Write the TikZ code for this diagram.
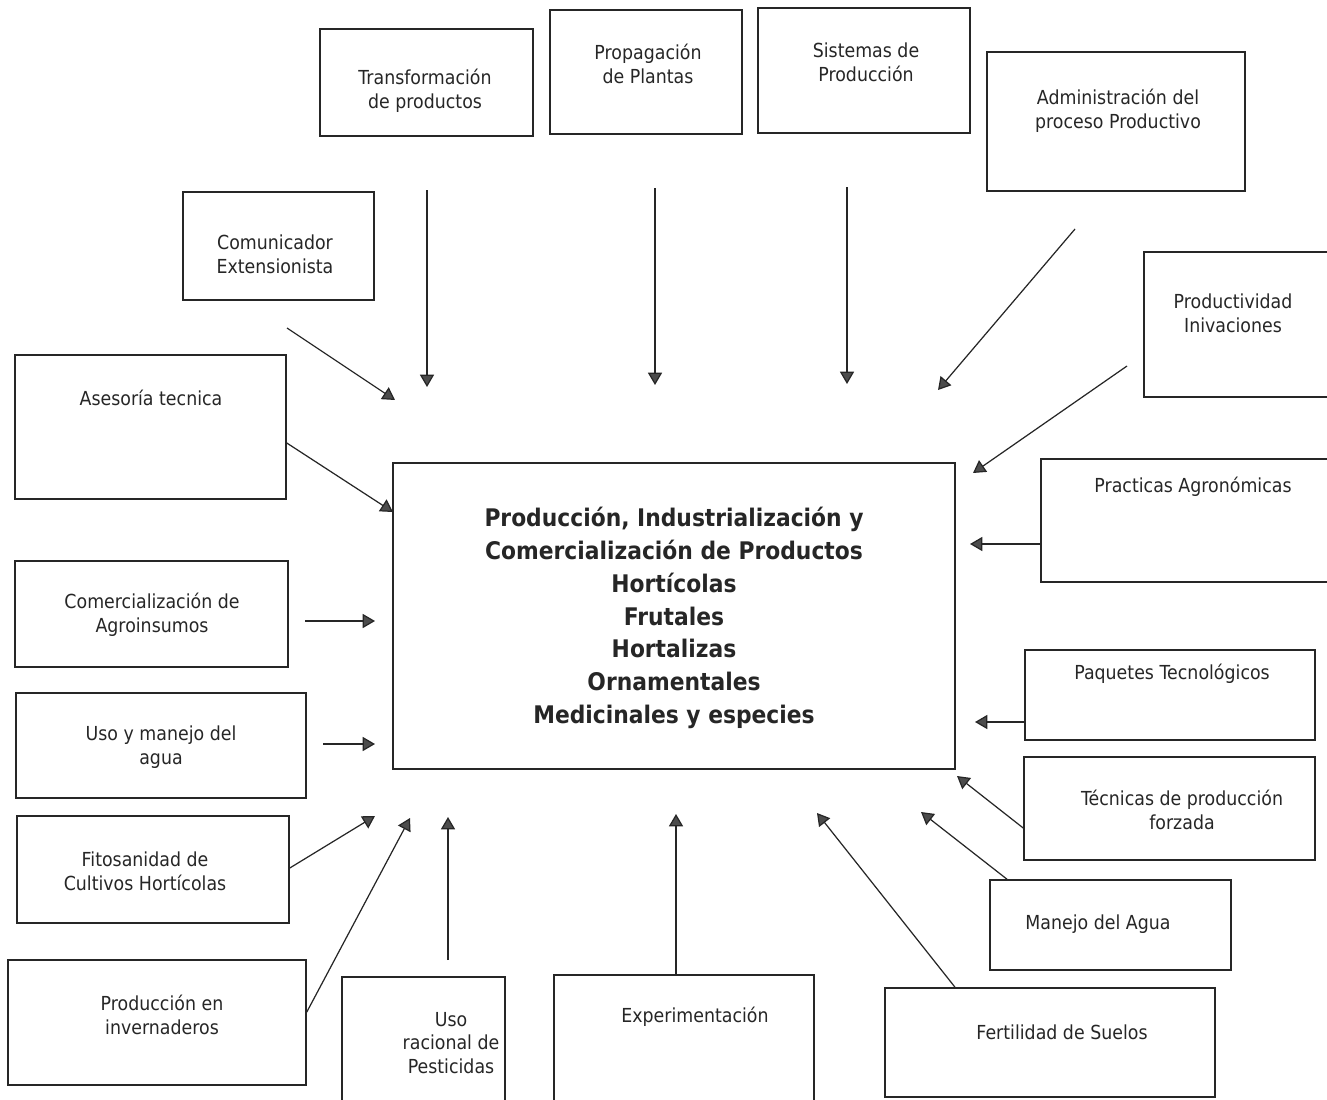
\documentclass[tikz,border=0pt]{standalone}
\usepackage{fontspec}
\setmainfont{DejaVu Sans}[FakeStretch=0.9]
\usetikzlibrary{arrows.meta,fit}

\begin{document}
\begin{tikzpicture}[x=0.02cm, y=-0.02cm,
	box/.style = {draw=black!85, line width=0.9pt, inner sep=0pt},
	txt/.style = {align=center, inner sep=0pt, text=black!85, font=\fontsize{11}{13.6}\selectfont},
	main/.style = {align=center, inner sep=0pt, text=black!85, font=\fontsize{13.8}{18.7}\selectfont\bfseries},
	edge/.style = {line width=0.7pt, draw=black!85, arrows = {-Triangle[width=8pt, length=7pt, fill=black!70]}}]
	\useasboundingbox (0,0) rectangle (1327,1099);
	\clip (0,0) rectangle (1327,1099);
	% centre
	\node[box, fit={(393,463) (955,769)}] (centro) {};
	\node[main] (centro-t) at (674,618) {Producción, Industrialización y\\Comercialización de Productos\\Hortícolas\\Frutales\\Hortalizas\\Ornamentales\\Medicinales y especies};
	% top row
	\node[box, fit={(320,29) (533,136)}] (transf) {};
	\node[txt] (transf-t) at (425,91) {Transformación\\de productos};
	\node[box, fit={(550,10) (742,134)}] (prop) {};
	\node[txt] (prop-t) at (648,64) {Propagación\\de Plantas};
	\node[box, fit={(758,8) (970,133)}] (sist) {};
	\node[txt] (sist-t) at (866,62) {Sistemas de\\Producción};
	\node[box, fit={(987,52) (1245,191)}] (admin) {};
	\node[txt] (admin-t) at (1118,111) {Administración del\\proceso Productivo};
	% left side
	\node[box, fit={(183,192) (374,300)}] (comu) {};
	\node[txt] (comu-t) at (275,254) {Comunicador\\Extensionista};
	\node[box, fit={(15,355) (286,499)}] (ases) {};
	\node[txt] (ases-t) at (151,398) {Asesoría tecnica};
	\node[box, fit={(15,561) (288,667)}] (comer) {};
	\node[txt] (comer-t) at (152,615) {Comercialización de\\Agroinsumos};
	\node[box, fit={(16,693) (306,798)}] (agua) {};
	\node[txt] (agua-t) at (161,747) {Uso y manejo del\\agua};
	\node[box, fit={(17,816) (289,923)}] (fito) {};
	\node[txt] (fito-t) at (145,871) {Fitosanidad de\\Cultivos Hortícolas};
	\node[box, fit={(8,960) (306,1085)}] (inver) {};
	\node[txt] (inver-t) at (162,1015) {Producción en\\invernaderos};
	% bottom row
	\node[box, fit={(342,977) (505,1115)}] (pest) {};
	\node[txt] (pest-t) at (451,1043) {Uso\\racional de\\Pesticidas};
	\node[box, fit={(554,975) (814,1115)}] (exper) {};
	\node[txt] (exper-t) at (695,1017) {Experimentación};
	\node[box, fit={(885,988) (1215,1097)}] (fert) {};
	\node[txt] (fert-t) at (1062,1032) {Fertilidad de Suelos};
	% right side
	\node[box, fit={(1144,252) (1340,397)}] (produc) {};
	\node[txt] (produc-t) at (1233,313) {Productividad\\Inivaciones};
	\node[box, fit={(1041,459) (1340,582)}] (pract) {};
	\node[txt] (pract-t) at (1193,487) {Practicas Agronómicas};
	\node[box, fit={(1025,650) (1315,740)}] (paq) {};
	\node[txt] (paq-t) at (1172,674) {Paquetes Tecnológicos};
	\node[box, fit={(1024,757) (1315,860)}] (tecn) {};
	\node[txt] (tecn-t) at (1182,810) {Técnicas de producción\\forzada};
	\node[box, fit={(990,880) (1231,970)}] (manejo) {};
	\node[txt] (manejo-t) at (1098,924) {Manejo del Agua};
	% arrow ends
	\coordinate (transf-a) at (427,190);  \coordinate (transf-b) at (427,387);
	\coordinate (prop-a) at (655,188);    \coordinate (prop-b) at (655,385);
	\coordinate (sist-a) at (847,187);    \coordinate (sist-b) at (847,384);
	\coordinate (admin-a) at (1075,229);  \coordinate (admin-b) at (938,390);
	\coordinate (comu-a) at (287,328);    \coordinate (comu-b) at (395,400);
	\coordinate (produc-a) at (1127,366); \coordinate (produc-b) at (973,473);
	\coordinate (ases-b) at (393,512);
	\coordinate (pract-b) at (970,544);
	\coordinate (comer-a) at (305,621);   \coordinate (comer-b) at (375,621);
	\coordinate (paq-b) at (975,722);
	\coordinate (agua-a) at (323,744);    \coordinate (agua-b) at (375,744);
	\coordinate (tecn-b) at (957,776);
	\coordinate (fito-b) at (375,816);
	\coordinate (manejo-b) at (921,812);
	\coordinate (inver-b) at (410,818);
	\coordinate (pest-a) at (448,960);    \coordinate (pest-b) at (448,817);
	\coordinate (exper-b) at (676,814);
	\coordinate (fert-b) at (817,813);
	% arrows
	\draw[edge] (transf-a) -- (transf-b);
	\draw[edge] (prop-a) -- (prop-b);
	\draw[edge] (sist-a) -- (sist-b);
	\draw[edge] (admin-a) -- (admin-b);
	\draw[edge] (comu-a) -- (comu-b);
	\draw[edge] (produc-a) -- (produc-b);
	\draw[edge] (ases.east |- 0,443) -- (ases-b);
	\draw[edge] (pract.west |- 0,544) -- (pract-b);
	\draw[edge] (comer-a) -- (comer-b);
	\draw[edge] (paq.west |- 0,722) -- (paq-b);
	\draw[edge] (agua-a) -- (agua-b);
	\draw[edge] (tecn.west |- 0,828) -- (tecn-b);
	\draw[edge] (fito.east |- 0,868) -- (fito-b);
	\draw[edge] (manejo.north -| 1007,0) -- (manejo-b);
	\draw[edge] (inver.east |- 0,1012) -- (inver-b);
	\draw[edge] (pest-a) -- (pest-b);
	\draw[edge] (exper.north -| 676,0) -- (exper-b);
	\draw[edge] (fert.north -| 955,0) -- (fert-b);
\end{tikzpicture}
\end{document}
